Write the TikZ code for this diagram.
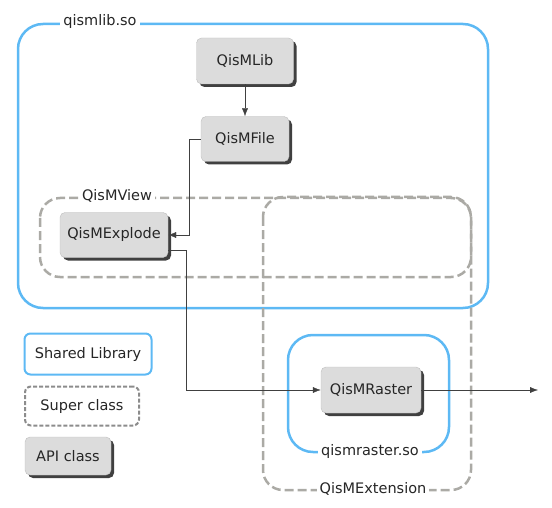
\documentclass[tikz,border=0pt]{standalone}
\usepackage{fontspec}
\setmainfont{DejaVu Sans}
\usepackage{xcolor}
\usetikzlibrary{shadows,arrows.meta}
\definecolor{libblue}{HTML}{5DB9F4}
\definecolor{supgray}{HTML}{ABAAA5}
\definecolor{apifill}{HTML}{DCDCDC}
\begin{document}
\begin{tikzpicture}[x=1pt,y=-1pt,font=\fontsize{14.5}{17}\selectfont,text=black!85,
  api/.style={draw=black!25,fill=apifill,rounded corners=5pt,inner sep=0pt,
    drop shadow={shadow xshift=3pt,shadow yshift=-3pt,fill=black!75,opacity=1}},
  shlib/.style={draw=libblue,line width=2.5pt,rounded corners=25pt},
  super/.style={draw=supgray,line width=2.5pt,dash pattern=on 9pt off 4pt,rounded corners=20pt},
  lbl/.style={fill=white,inner sep=3pt},
  link/.style={-{Latex[length=8pt,width=6pt]},black!75}]
\useasboundingbox (0,0) rectangle (552,508);
\draw[shlib] (18,24) rectangle (488,308);
\node[lbl] (libname) at (100,22) {qismlib.so};
\draw[super] (40,198) rectangle (471,277);
\node[lbl] (viewname) at (117,196) {QisMView};
\draw[super] (263,197) rectangle (471,490);
\node[lbl] (extname) at (373,489) {QisMExtension};
\draw[shlib] (288,335) rectangle (449,452);
\node[lbl] (rastername) at (370,451) {qismraster.so};
\node[api,minimum width=97pt,minimum height=46pt] (lib) at (245,61) {QisMLib};
\node[api,minimum width=88pt,minimum height=45pt] (file) at (245,139) {QisMFile};
\node[api,minimum width=108pt,minimum height=45pt] (explode) at (114,235) {QisMExplode};
\node[api,minimum width=100pt,minimum height=46pt] (raster) at (371,390) {QisMRaster};
\coordinate (out) at (538,390);
\draw[link] (lib) -- (file);
\draw[link] (file.west) -- ++(-12,0) |- (explode.east);
\draw[link] ([yshift=-15pt]explode.east) -- ++(18,0) |- (raster.west);
\draw[link] (raster.east) -- (out);
% legend
\node[draw=libblue,line width=2pt,rounded corners=6pt,minimum width=127pt,minimum height=41pt] (legshlib) at (88,354) {Shared Library};
\node[draw=black!45,line width=2pt,dash pattern=on 4pt off 2pt,rounded corners=6pt,minimum width=114pt,minimum height=39pt] (legsuper) at (82,406) {Super class};
\node[api,minimum width=86pt,minimum height=38pt] (legapi) at (68,456) {API class};
\end{tikzpicture}
\end{document}
